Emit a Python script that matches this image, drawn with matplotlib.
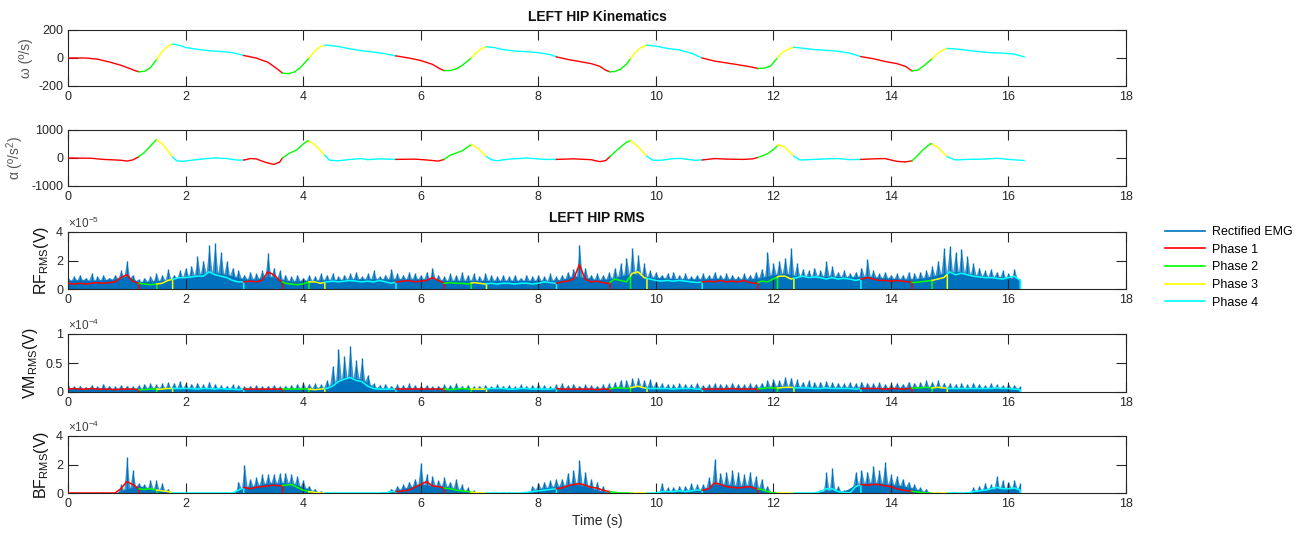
import numpy as np
import matplotlib
matplotlib.use('Agg')
import matplotlib.pyplot as plt
from matplotlib.lines import Line2D
from matplotlib.ticker import FuncFormatter

plt.rcParams['font.family'] = ['Liberation Sans', 'DejaVu Sans']
plt.rcParams['mathtext.fontset'] = 'custom'
plt.rcParams['mathtext.rm'] = 'Liberation Sans'
plt.rcParams['mathtext.it'] = 'Liberation Sans:italic'
plt.rcParams['axes.unicode_minus'] = False

# phase boundaries (s); phases cycle 1,2,3,4
phase_edges = [0, 1.21, 1.51, 1.78, 2.99, 3.65, 4.10, 4.37, 5.58, 6.40, 6.86, 7.12,
               8.31, 9.22, 9.57, 9.85, 10.79, 11.74, 12.07, 12.35, 13.49, 14.36,
               14.70, 14.96, 16.27]
phase_colors = ['#FF0000', '#00FF00', '#FFFF00', '#00FFFF']
phase_names = ['Phase 1', 'Phase 2', 'Phase 3', 'Phase 4']
emg_color = '#0072BD'

# hip angular velocity (deg/s)
omega_t = [0, 0.3, 0.5, 0.7, 0.9, 1.05, 1.15, 1.21, 1.3, 1.4, 1.51, 1.6, 1.7, 1.78, 1.9,
           2.0, 2.2, 2.4, 2.6, 2.8, 2.99, 3.2, 3.4, 3.55, 3.65, 3.75, 3.85, 3.95, 4.1,
           4.2, 4.3, 4.4, 4.6, 4.8, 5.0, 5.2, 5.4, 5.58, 5.8, 6.0, 6.2, 6.32, 6.4, 6.5,
           6.6, 6.7, 6.86, 6.95, 7.05, 7.12, 7.25, 7.4, 7.6, 7.8, 8.0, 8.2, 8.31, 8.5,
           8.7, 8.9, 9.05, 9.15, 9.22, 9.3, 9.4, 9.5, 9.57, 9.65, 9.75, 9.85, 10.0,
           10.2, 10.4, 10.6, 10.79, 11.0, 11.2, 11.4, 11.6, 11.74, 11.85, 11.95, 12.07,
           12.15, 12.25, 12.35, 12.5, 12.7, 12.9, 13.1, 13.3, 13.49, 13.7, 13.9, 14.1,
           14.25, 14.36, 14.45, 14.55, 14.7, 14.8, 14.9, 14.96, 15.1, 15.3, 15.5, 15.7,
           15.9, 16.1, 16.27]
omega_v = [0, 0, -8, -28, -52, -75, -92, -98, -95, -70, -10, 45, 85, 100, 90,
           75, 62, 52, 47, 38, 18, 0, -30, -75, -108, -112, -100, -70, 0,
           50, 82, 93, 82, 65, 52, 42, 30, 15, 0, -18, -45, -75, -90, -90,
           -78, -55, 0, 40, 70, 80, 75, 60, 50, 45, 38, 25, 8, -10,
           -25, -40, -60, -88, -98, -97, -80, -45, -5, 40, 75, 92, 85,
           68, 58, 35, 0, -22, -35, -48, -62, -75, -72, -58, 0,
           40, 62, 77, 70, 60, 55, 48, 35, 10, -5, -25, -40,
           -60, -92, -88, -60, -5, 35, 60, 68, 65, 55, 45, 38,
           35, 28, 8]

# hip angular acceleration (deg/s^2)
alpha_t = [0, 0.4, 0.6, 0.8, 0.9, 1.0, 1.1, 1.2, 1.3, 1.4, 1.5, 1.6, 1.7, 1.78, 1.85,
           1.95, 2.1, 2.3, 2.5, 2.7, 2.9, 3.0, 3.1, 3.2, 3.35, 3.5, 3.6, 3.65, 3.75,
           3.9, 4.0, 4.08, 4.2, 4.37, 4.45, 4.6, 4.8, 5.0, 5.1, 5.3, 5.58, 5.9, 6.1,
           6.3, 6.4, 6.5, 6.7, 6.86, 6.95, 7.05, 7.12, 7.2, 7.3, 7.5, 7.8, 8.1, 8.31,
           8.6, 8.9, 9.05, 9.15, 9.22, 9.35, 9.5, 9.57, 9.7, 9.85, 9.95, 10.1, 10.3,
           10.45, 10.65, 10.79, 11.0, 11.2, 11.5, 11.65, 11.74, 11.9, 12.0, 12.09, 12.2,
           12.35, 12.45, 12.6, 12.9, 13.1, 13.3, 13.49, 13.7, 13.9, 14.1, 14.25, 14.36,
           14.45, 14.55, 14.68, 14.8, 14.96, 15.1, 15.3, 15.6, 15.8, 16.0, 16.27]
alpha_v = [0, -10, -50, -70, -80, -110, -70, 40, 200, 420, 650, 520, 250, 30, -100,
           -120, -80, -30, 0, -20, -80, -70, -20, -30, -150, -230, -150, 0, 150,
           300, 500, 620, 480, 100, -80, -100, -50, -20, -60, -30, -50, -40, -70,
           -110, -50, 100, 250, 480, 380, 200, 50, -60, -100, -40, 0, -50, -50,
           -30, -60, -130, -90, 50, 300, 560, 620, 400, 60, -80, -80, -20,
           -20, -80, -70, -20, -40, -50, -30, 20, 150, 300, 480, 380,
           60, -70, -60, -30, -20, -60, -50, -30, -20, -120, -140, -100,
           80, 300, 520, 380, 40, -70, -50, -40, -10, -50, -90]

# EMG: spike heights (0.1 s grid), dense body level (0.2 s grid), RMS envelope (0.1 s grid)
rf_scale, vm_scale, bf_scale = 1e-5, 1e-4, 1e-4

rf_spikes = [0.8, 0.9, 1.0, 0.8, 1.1, 0.9, 1.0, 0.8, 1.0, 1.3,
             2.0, 1.0, 0.7, 0.8, 0.9, 1.1, 1.0, 1.4, 1.0, 1.3,
             1.5, 1.6, 2.3, 2.0, 3.1, 3.2, 2.6, 2.0, 1.5, 1.3,
             1.0, 1.2, 1.1, 1.3, 2.5, 1.5, 1.3, 1.0, 0.9, 1.0,
             0.8, 1.0, 0.9, 1.1, 1.0, 1.1, 0.9, 1.0, 1.1, 1.2,
             0.9, 1.1, 1.3, 0.9, 1.0, 1.4, 1.1, 1.0, 1.2, 1.1,
             1.0, 1.2, 1.5, 1.0, 0.9, 1.1, 1.0, 1.2, 1.0, 1.1,
             0.9, 1.1, 1.0, 0.9, 1.0, 0.9, 1.0, 0.8, 1.0, 0.9,
             1.0, 0.9, 1.1, 0.9, 1.0, 1.2, 1.4, 3.1, 1.5, 1.0,
             1.1, 1.0, 1.2, 1.5, 1.8, 2.2, 2.9, 2.4, 1.8, 1.3,
             1.2, 1.0, 1.1, 1.2, 1.0, 1.1, 0.9, 1.0, 1.1, 1.0,
             1.2, 1.0, 1.1, 1.0, 0.9, 1.1, 1.0, 1.2, 1.4, 2.6,
             1.8, 2.0, 2.2, 2.9, 1.8, 1.4, 1.3, 1.5, 1.3, 1.95,
             1.6, 1.2, 1.3, 1.1, 1.2, 1.5, 2.1, 1.3, 1.1, 1.2,
             1.0, 1.1, 1.0, 1.2, 1.1, 1.2, 1.3, 1.6, 2.0, 2.9,
             3.0, 2.6, 2.8, 2.3, 1.8, 1.5, 1.3, 1.4, 1.2, 1.3,
             1.1, 1.4, 0.6]
rf_body = [0.6, 0.65, 0.6, 0.65, 0.7, 0.9, 0.5, 0.55, 0.6, 0.75,
           0.9, 1.0, 1.2, 1.1, 0.9, 0.7, 0.7, 0.9, 0.7, 0.55,
           0.6, 0.6, 0.65, 0.65, 0.7, 0.7, 0.7, 0.7, 0.7, 0.7,
           0.7, 0.7, 0.6, 0.6, 0.6, 0.6, 0.6, 0.6, 0.6, 0.6,
           0.6, 0.6, 0.65, 0.9, 0.8, 0.65, 0.7, 0.9, 1.1, 0.9,
           0.8, 0.75, 0.7, 0.7, 0.7, 0.75, 0.7, 0.7, 0.7, 0.8,
           1.0, 1.1, 0.9, 0.9, 0.9, 0.9, 0.85, 0.85, 0.9, 0.8,
           0.75, 0.7, 0.7, 0.8, 1.0, 1.2, 1.2, 1.0, 0.9, 0.85,
           0.8, 0.7]
rf_rms = [0.4, 0.35, 0.4, 0.35, 0.4, 0.45, 0.4, 0.45, 0.5, 0.8,
          1.0, 0.55, 0.4, 0.35, 0.3, 0.35, 0.4, 0.6, 0.7, 0.8,
          0.8, 0.85, 0.9, 0.9, 1.2, 1.0, 0.9, 0.8, 0.6, 0.5,
          0.5, 0.55, 0.5, 0.6, 1.2, 1.0, 0.6, 0.4, 0.35, 0.3,
          0.35, 0.5, 0.5, 0.4, 0.5, 0.55, 0.5, 0.55, 0.6, 0.55,
          0.5, 0.55, 0.5, 0.6, 0.5, 0.4, 0.5, 0.55, 0.6, 0.5,
          0.55, 0.6, 0.8, 0.6, 0.4, 0.45, 0.4, 0.4, 0.35, 0.45,
          0.4, 0.35, 0.4, 0.35, 0.4, 0.4, 0.35, 0.4, 0.4, 0.35,
          0.4, 0.5, 0.45, 0.4, 0.5, 0.55, 0.7, 1.7, 0.7, 0.5,
          0.55, 0.45, 0.4, 0.7, 0.6, 0.5, 1.1, 1.2, 0.8, 0.7,
          0.6, 0.55, 0.6, 0.55, 0.6, 0.55, 0.5, 0.45, 0.5, 0.55,
          0.5, 0.6, 0.5, 0.55, 0.5, 0.6, 0.45, 0.4, 0.55, 0.5,
          0.7, 0.9, 0.9, 0.7, 0.8, 0.9, 0.8, 0.85, 0.8, 0.7,
          0.8, 0.7, 0.75, 0.7, 0.6, 0.7, 0.8, 0.7, 0.6, 0.6,
          0.55, 0.6, 0.55, 0.5, 0.45, 0.5, 0.55, 0.6, 0.7, 0.8,
          1.2, 1.0, 1.1, 1.0, 0.9, 0.85, 0.8, 0.8, 0.75, 0.7,
          0.8, 0.9, 0.6]

vm_spikes = [0.12, 0.10, 0.11, 0.09, 0.12, 0.10, 0.14, 0.11, 0.10, 0.12,
             0.11, 0.10, 0.12, 0.14, 0.15, 0.13, 0.15, 0.17, 0.16, 0.19,
             0.15, 0.14, 0.16, 0.13, 0.18, 0.14, 0.12, 0.11, 0.13, 0.12,
             0.10, 0.11, 0.12, 0.10, 0.11, 0.12, 0.10, 0.11, 0.12, 0.14,
             0.16, 0.14, 0.15, 0.13, 0.20, 0.45, 0.75, 0.62, 0.80, 0.55,
             0.58, 0.30, 0.15, 0.12, 0.14, 0.11, 0.13, 0.12, 0.15, 0.12,
             0.11, 0.12, 0.10, 0.11, 0.13, 0.12, 0.15, 0.11, 0.12, 0.10,
             0.11, 0.12, 0.10, 0.13, 0.11, 0.12, 0.10, 0.13, 0.11, 0.12,
             0.14, 0.12, 0.10, 0.13, 0.15, 0.12, 0.14, 0.11, 0.13, 0.12,
             0.11, 0.13, 0.15, 0.17, 0.21, 0.20, 0.24, 0.25, 0.20, 0.22,
             0.18, 0.15, 0.14, 0.13, 0.15, 0.14, 0.13, 0.16, 0.12, 0.13,
             0.15, 0.14, 0.13, 0.16, 0.14, 0.13, 0.15, 0.14, 0.16, 0.20,
             0.22, 0.20, 0.26, 0.25, 0.22, 0.18, 0.20, 0.17, 0.18, 0.19,
             0.17, 0.16, 0.15, 0.17, 0.15, 0.18, 0.16, 0.15, 0.17, 0.14,
             0.15, 0.16, 0.14, 0.18, 0.16, 0.17, 0.20, 0.18, 0.20, 0.16,
             0.15, 0.14, 0.15, 0.13, 0.16, 0.14, 0.12, 0.15, 0.13, 0.12,
             0.14, 0.12, 0.10]
vm_body = [0.06, 0.06, 0.06, 0.06, 0.06, 0.06, 0.06, 0.07, 0.07, 0.07,
           0.07, 0.07, 0.06, 0.06, 0.06, 0.06, 0.06, 0.06, 0.06, 0.06,
           0.06, 0.07, 0.08, 0.20, 0.25, 0.22, 0.08, 0.06, 0.06, 0.06,
           0.06, 0.06, 0.06, 0.06, 0.06, 0.06, 0.06, 0.06, 0.06, 0.06,
           0.06, 0.06, 0.06, 0.06, 0.06, 0.06, 0.06, 0.07, 0.09, 0.09,
           0.08, 0.07, 0.07, 0.07, 0.07, 0.07, 0.07, 0.07, 0.07, 0.08,
           0.10, 0.10, 0.09, 0.08, 0.08, 0.08, 0.08, 0.08, 0.08, 0.07,
           0.07, 0.08, 0.08, 0.09, 0.08, 0.07, 0.07, 0.07, 0.07, 0.07,
           0.07, 0.06]
vm_rms = [0.05, 0.06, 0.05, 0.05, 0.06, 0.05, 0.05, 0.05, 0.04, 0.05,
          0.05, 0.05, 0.04, 0.04, 0.05, 0.05, 0.05, 0.06, 0.06, 0.06,
          0.06, 0.06, 0.05, 0.06, 0.06, 0.05, 0.06, 0.05, 0.05, 0.04,
          0.05, 0.05, 0.05, 0.05, 0.05, 0.05, 0.05, 0.05, 0.05, 0.05,
          0.05, 0.05, 0.04, 0.05, 0.06, 0.10, 0.18, 0.22, 0.25, 0.20,
          0.18, 0.10, 0.06, 0.05, 0.05, 0.05, 0.05, 0.05, 0.05, 0.05,
          0.05, 0.05, 0.05, 0.05, 0.05, 0.04, 0.05, 0.06, 0.05, 0.05,
          0.05, 0.05, 0.06, 0.06, 0.06, 0.05, 0.05, 0.06, 0.06, 0.05,
          0.05, 0.05, 0.05, 0.06, 0.05, 0.05, 0.05, 0.05, 0.05, 0.05,
          0.04, 0.05, 0.05, 0.07, 0.07, 0.06, 0.08, 0.10, 0.07, 0.06,
          0.06, 0.06, 0.06, 0.05, 0.06, 0.06, 0.06, 0.05, 0.05, 0.05,
          0.05, 0.05, 0.05, 0.06, 0.05, 0.05, 0.05, 0.05, 0.06, 0.07,
          0.07, 0.07, 0.08, 0.08, 0.07, 0.07, 0.07, 0.06, 0.06, 0.07,
          0.06, 0.06, 0.06, 0.06, 0.05, 0.06, 0.06, 0.06, 0.06, 0.05,
          0.06, 0.06, 0.05, 0.06, 0.07, 0.07, 0.08, 0.07, 0.08, 0.07,
          0.06, 0.06, 0.06, 0.06, 0.06, 0.06, 0.06, 0.06, 0.07, 0.06,
          0.06, 0.05, 0.04]

bf_spikes = [0, 0, 0, 0.02, 0, 0.03, 0.04, 0.02, 0, 0.6,
             2.5, 1.6, 0.7, 0.6, 0.9, 0.9, 0.7, 0.3, 0, 0,
             0, 0, 0, 0, 0, 0, 0, 0, 0, 0.8,
             2.0, 1.0, 1.1, 1.3, 1.3, 1.3, 1.4, 1.4, 1.3, 1.2,
             0.9, 0.5, 0.3, 0.15, 0.05, 0, 0, 0, 0, 0,
             0, 0, 0, 0, 0, 0.3, 0.5, 0.6, 0.8, 1.0,
             2.1, 1.3, 1.2, 0.9, 1.1, 0.8, 1.0, 0.6, 0.4, 0.2,
             0.05, 0, 0, 0, 0.05, 0.05, 0, 0.03, 0.1, 0.5,
             0.7, 0.8, 0.9, 1.0, 1.0, 1.4, 1.6, 2.3, 1.5, 1.0,
             0.8, 0.5, 0.2, 0.1, 0.05, 0.03, 0.1, 0.05, 0, 0,
             0, 0.7, 0.4, 0.4, 0.5, 0.5, 0.7, 0.6, 0.6, 1.1,
             2.4, 1.4, 1.45, 1.6, 1.5, 1.3, 1.5, 1.2, 1.0, 0.5,
             0.1, 0.05, 0.05, 0, 0, 0, 0, 0.05, 0.2, 1.45,
             1.75, 0.5, 0.2, 0.2, 1.5, 1.6, 1.5, 1.9, 1.6, 2.2,
             1.3, 1.2, 1.0, 0.8, 0.6, 0.4, 0.3, 0.1, 0, 0,
             0, 0.05, 0, 0.1, 0.4, 0.5, 0.7, 0.6, 1.2, 0.9,
             0.8, 0.9, 0.7]
bf_body = [0, 0, 0, 0, 0, 0.3, 0.5, 0.3, 0.2, 0,
           0, 0, 0, 0, 0, 0.4, 0.5, 0.7, 0.7, 0.7,
           0.4, 0.1, 0, 0, 0, 0, 0, 0.1, 0.2, 0.4,
           0.6, 0.5, 0.5, 0.3, 0.1, 0, 0, 0, 0, 0.05,
           0.3, 0.4, 0.5, 0.6, 0.5, 0.2, 0.03, 0, 0, 0,
           0, 0.15, 0.15, 0.2, 0.25, 0.6, 0.6, 0.5, 0.55, 0.3,
           0, 0, 0, 0, 0.1, 0.2, 0.1, 0.6, 0.7, 0.7,
           0.6, 0.5, 0.3, 0.05, 0, 0, 0, 0.1, 0.2, 0.3,
           0.3, 0.3]
bf_rms = [0, 0, 0, 0, 0, 0, 0, 0, 0, 0.3,
          0.8, 0.6, 0.3, 0.25, 0.3, 0.2, 0.15, 0.1, 0, 0,
          0, 0, 0, 0, 0, 0, 0, 0, 0, 0.2,
          0.4, 0.3, 0.4, 0.45, 0.5, 0.55, 0.5, 0.55, 0.6, 0.4,
          0.2, 0.1, 0.05, 0, 0, 0, 0, 0, 0, 0,
          0, 0, 0, 0, 0, 0.1, 0.1, 0.15, 0.2, 0.4,
          0.6, 0.8, 0.5, 0.45, 0.35, 0.3, 0.2, 0.15, 0.1, 0.05,
          0, 0, 0, 0, 0, 0, 0, 0, 0.05, 0.1,
          0.15, 0.2, 0.25, 0.3, 0.35, 0.5, 0.6, 0.65, 0.55, 0.4,
          0.35, 0.2, 0.1, 0.05, 0, 0, 0, 0, 0, 0,
          0, 0.1, 0.1, 0.1, 0.15, 0.1, 0.15, 0.2, 0.2, 0.3,
          0.7, 0.6, 0.45, 0.4, 0.35, 0.4, 0.45, 0.3, 0.25, 0.1,
          0, 0, 0, 0, 0, 0, 0, 0, 0.1, 0.3,
          0.3, 0.1, 0.05, 0, 0.45, 0.6, 0.55, 0.6, 0.6, 0.5,
          0.45, 0.3, 0.2, 0.15, 0.1, 0.05, 0, 0, 0, 0,
          0, 0, 0, 0, 0.1, 0.15, 0.2, 0.3, 0.4, 0.3,
          0.3, 0.35, 0.2]


def style_axes(ax, yticks, ylim):
    ax.set_xlim(0, 18)
    ax.set_xticks(range(0, 19, 2))
    ax.set_ylim(ylim)
    ax.set_yticks(yticks)
    ax.tick_params(direction='in', top=True, right=True, length=7.5, width=0.8,
                   colors='#262626', labelsize=9, labelcolor='#262626')
    for s in ax.spines.values():
        s.set_color('#262626')
        s.set_linewidth(0.8)


def draw_phased(ax, t, v, lw, drop=False):
    t = np.asarray(t, float)
    v = np.asarray(v, float)
    for i in range(len(phase_edges) - 1):
        t0, t1 = phase_edges[i], min(phase_edges[i + 1], t[-1])
        if t0 >= t[-1]:
            break
        inside = (t > t0) & (t < t1)
        st = np.r_[t0, t[inside], t1]
        sv = np.r_[np.interp(t0, t, v), v[inside], np.interp(t1, t, v)]
        if drop:
            st = np.r_[st, t1]
            sv = np.r_[sv, 0]
        ax.plot(st, sv, color=phase_colors[i % 4], lw=lw, zorder=3, solid_joinstyle='round')


def draw_emg(ax, spikes, body, rms, scale):
    ts = np.arange(len(spikes)) * 0.1
    tb = np.arange(len(body)) * 0.2
    tr = np.arange(len(rms)) * 0.1
    sp = np.array(spikes) * scale
    bd = np.array(body) * scale
    # jagged trace: each spike top falls back to the body level half a step later
    tz = np.ravel(np.column_stack([ts, ts + 0.05]))[:-1]
    vz = np.ravel(np.column_stack([sp, np.interp(ts + 0.05, tb, bd)]))[:-1]
    ax.fill_between(tb, 0, bd, color=emg_color, lw=0, zorder=1)
    ax.fill_between(tz, 0, vz, color=emg_color, lw=0, alpha=0.75, zorder=1)
    ax.vlines(ts, 0, sp, color=emg_color, lw=1.0, zorder=1)
    draw_phased(ax, tr, np.array(rms) * scale, lw=1.1, drop=True)


W, H = 1303, 537
fig = plt.figure(figsize=(W / 100, H / 100), dpi=100)


def add_axes(top, bottom):
    return fig.add_axes([68 / W, 1 - bottom / H, 1058 / W, (bottom - top) / H])


ax1 = add_axes(30, 86)
draw_phased(ax1, omega_t, omega_v, lw=1.0)
style_axes(ax1, [-200, 0, 200], (-200, 200))
ax1.set_ylabel('ω (º/s)', fontsize=10, color='#555555')

ax2 = add_axes(130, 186)
draw_phased(ax2, alpha_t, alpha_v, lw=1.0)
style_axes(ax2, [-1000, 0, 1000], (-1000, 1000))
ax2.set_ylabel('α (º/s$^2$)', fontsize=10, color='#555555')

panels = [
    (232, 289, rf_spikes, rf_body, rf_rms, rf_scale, [0, 2, 4], 4, 'RF', '-5'),
    (334, 392, vm_spikes, vm_body, vm_rms, vm_scale, [0, 0.5, 1], 1, 'VM', '-4'),
    (436, 493, bf_spikes, bf_body, bf_rms, bf_scale, [0, 2, 4], 4, 'BF', '-4'),
]
emg_axes = []
for top, bottom, sp, bd, rm, sc, ticks, ymax, name, expo in panels:
    ax = add_axes(top, bottom)
    draw_emg(ax, sp, bd, rm, sc)
    style_axes(ax, [v * sc for v in ticks], (0, ymax * sc))
    ax.yaxis.set_major_formatter(FuncFormatter(lambda v, p, sc=sc: f'{v / sc:g}'))
    ax.set_ylabel(name + r'$_{\mathrm{RMS}}$(V)', fontsize=11.5, color='#111111', labelpad=4)
    ax.text(0, 1.02, r'$\times$10$^{' + expo + '}$', transform=ax.transAxes,
            fontsize=8.5, color='#404040', ha='left', va='bottom')
    emg_axes.append(ax)

emg_axes[-1].set_xlabel('Time (s)', fontsize=10, color='#262626', labelpad=3)

cx = (68 + 1126) / 2 / W
fig.text(cx, 1 - 17 / H, 'LEFT HIP Kinematics', ha='center', va='center',
         fontsize=10, fontweight='bold', color='#111111')
fig.text(cx, 1 - 218 / H, 'LEFT HIP RMS', ha='center', va='center',
         fontsize=10, fontweight='bold', color='#111111')

handles = [Line2D([], [], color=emg_color, lw=1.2)] + \
          [Line2D([], [], color=c, lw=1.2) for c in phase_colors]
fig.legend(handles, ['Rectified EMG'] + phase_names, loc='upper left',
           bbox_to_anchor=(1160 / W, 1 - 221 / H), frameon=False, fontsize=9,
           handlelength=3.2, handletextpad=0.6, labelspacing=0.45, borderaxespad=0)

fig.savefig('out.png', dpi=100)
